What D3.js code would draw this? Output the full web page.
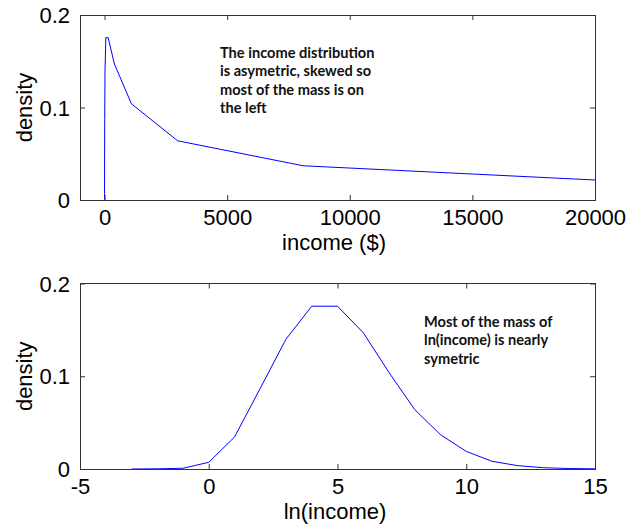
<!DOCTYPE html>
<html>
<head>
<meta charset="utf-8">
<script src="https://cdn.jsdelivr.net/npm/d3@7"></script>
<style>
  html, body { margin: 0; padding: 0; background: #fff; }
  svg { display: block; }
</style>
</head>
<body>
<svg id="chart" width="628" height="530"></svg>
<script>
// ---- data ----
const lnIncome = [-3, -2, -1, 0, 1, 2, 3, 4, 5, 6, 7, 8, 9, 10, 11, 12, 13, 14, 15];
const lnDensity = [0, 0.0002, 0.0008, 0.0072, 0.0345, 0.087, 0.140, 0.1755, 0.1755, 0.147, 0.104, 0.064, 0.037, 0.019, 0.0083, 0.0036, 0.0014, 0.0005, 0.0002];

const income = [0.05, 0.14, 0.37, 1, 2.7, 7.4, 20, 55, 148, 403, 1097, 2981, 8103, 22026];
const incomeDensity = [0, 0.0002, 0.0008, 0.0072, 0.0345, 0.087, 0.140, 0.1755, 0.1755, 0.147, 0.104, 0.064, 0.037, 0.019];

const topXTicks = [0, 5000, 10000, 15000, 20000];
const botXTicks = [-5, 0, 5, 10, 15];
const yTicks = [0, 0.1, 0.2];

const topNote = ["The income distribution", "is asymetric, skewed so", "most of the mass is on", "the left"];
const botNote = ["Most of the mass of", "ln(income) is nearly", "symetric"];

// ---- drawing ----
const svg = d3.select("#chart");
const axisFont = "'Liberation Sans', Arial, sans-serif";
const noteFont = "Lato, 'Open Sans', sans-serif";
const frameColor = "#333";

function panel(opts) {
  const {left, right, top, bottom, xDomain, xTicks, xData, yData, xLabel, note, noteX, noteY, id} = opts;
  const x = d3.scaleLinear().domain(xDomain).range([left, right]);
  const y = d3.scaleLinear().domain([0, 0.2]).range([bottom, top]);
  const g = svg.append("g");

  g.append("clipPath").attr("id", id).append("rect")
    .attr("x", left).attr("y", top - 1).attr("width", right - left).attr("height", bottom - top + 1);

  // data line
  const pts = xData.map((v, i) => [v, yData[i]]);
  g.append("path")
    .datum(pts)
    .attr("clip-path", `url(#${id})`)
    .attr("fill", "none")
    .attr("stroke", "#0000ff")
    .attr("stroke-width", 1)
    .attr("d", d3.line().x(d => x(d[0])).y(d => y(d[1])));

  // axes (inward ticks)
  const tk = 5;
  const xb = g.append("g").attr("transform", `translate(0,${bottom})`)
    .call(d3.axisBottom(x).tickValues(xTicks).tickSizeInner(-tk).tickSizeOuter(0).tickPadding(9).tickFormat(d => String(d)));
  const xt = g.append("g").attr("transform", `translate(0,${top})`)
    .call(d3.axisTop(x).tickValues(xTicks).tickSizeInner(-tk).tickSizeOuter(0).tickFormat(""));
  const yl = g.append("g").attr("transform", `translate(${left},0)`)
    .call(d3.axisLeft(y).tickValues(yTicks).tickSizeInner(-tk).tickSizeOuter(0).tickPadding(10).tickFormat(d => d === 0 ? "0" : d3.format(".1f")(d)));
  const yr = g.append("g").attr("transform", `translate(${right},0)`)
    .call(d3.axisRight(y).tickValues(yTicks).tickSizeInner(-tk).tickSizeOuter(0).tickFormat(""));
  [xb, xt, yl, yr].forEach(a => {
    a.select(".domain").remove();
    a.selectAll("line").attr("stroke", frameColor);
    a.selectAll("text").attr("font-family", axisFont).attr("font-size", 22).attr("fill", "#000");
  });
  xb.selectAll("text").attr("dy", null).attr("y", 25);
  yl.selectAll("text").attr("dy", "0.35em");

  // frame
  g.append("rect").attr("x", left).attr("y", top).attr("width", right - left).attr("height", bottom - top)
    .attr("fill", "none").attr("stroke", frameColor).attr("stroke-width", 1).attr("shape-rendering", "crispEdges");

  // axis titles
  g.append("text").attr("x", opts.xLabelX).attr("y", bottom + 50)
    .attr("text-anchor", "middle").attr("font-family", axisFont).attr("font-size", 22).text(xLabel);
  g.append("text").attr("transform", `translate(32,${(top + bottom) / 2}) rotate(-90)`)
    .attr("text-anchor", "middle").attr("font-family", axisFont).attr("font-size", 22).text("density");

  // annotation
  const t = g.append("text").attr("font-family", noteFont).attr("font-weight", "bold").attr("font-size", 14.6).attr("fill", "#111");
  note.forEach((line, i) => {
    t.append("tspan").attr("x", noteX).attr("y", noteY + i * 18.6).text(line);
  });
}

panel({
  id: "clipTop", left: 80, right: 595, top: 15, bottom: 200,
  xDomain: [-1000, 20000], xTicks: topXTicks,
  xData: income, yData: incomeDensity,
  xLabel: "income ($)", xLabelX: 334,
  note: topNote, noteX: 220, noteY: 57.5
});

panel({
  id: "clipBot", left: 80, right: 595, top: 283.5, bottom: 469,
  xDomain: [-5, 15], xTicks: botXTicks,
  xData: lnIncome, yData: lnDensity,
  xLabel: "ln(income)", xLabelX: 335,
  note: botNote, noteX: 424, noteY: 326.7
});
</script>
</body>
</html>
